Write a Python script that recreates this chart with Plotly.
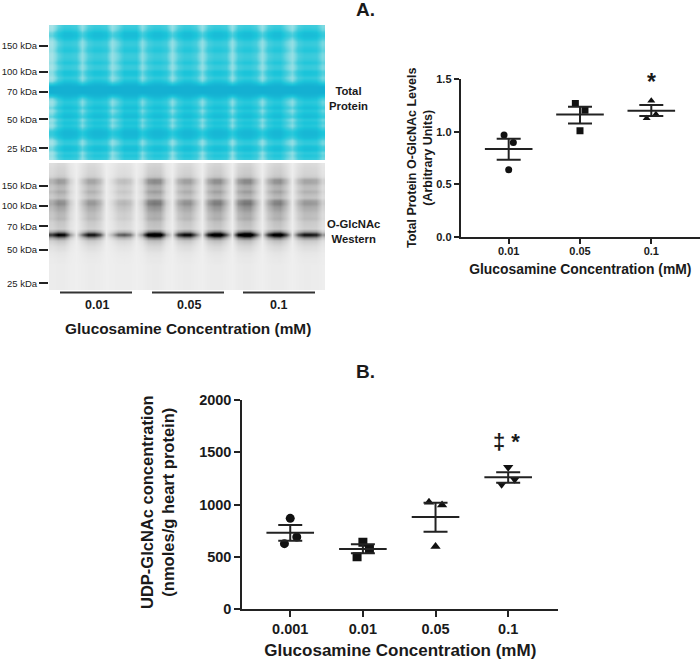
import plotly.graph_objects as go

W, H = 700, 663
FONT = "Liberation Sans"

# ---- Panel A dot plot ----
a_cats = ["0.01", "0.05", "0.1"]
a_x = [-0.065, 0.065, 0.0, 0.935, 1.07, 1.0, 2.0, 1.935, 2.065]
a_pts = [0.97, 0.90, 0.64, 1.27, 1.205, 1.01, 1.297, 1.13, 1.167]
a_means = [0.837, 1.165, 1.20]
a_upper = [0.935, 1.24, 1.255]
a_lower = [0.735, 1.08, 1.15]

# ---- Panel B dot plot ----
b_cats = ["0.001", "0.01", "0.05", "0.1"]
b_x = [0.0, 0.09, -0.08, 1.0, 1.09, 0.92, 1.91, 2.09, 2.0, 3.0, 3.09, 2.91]
b_pts = [869, 691, 627, 640, 580, 503, 1022, 997, 599, 1357, 1242, 1194]
b_means = [732, 576, 882, 1261]
b_upper = [806, 621, 1019, 1309]
b_lower = [656, 535, 742, 1210]

# ---- Blot panels: band strength down the gel, lane strength across it ----
stain_rows = [.2, .4, .7, .75, .6, .3, .25, .4, .5, .25, .2, .3, .5, .25, .25, .6, .55, .3, .55, .85,
              1, 1, 1, .9, .65, .4, .5, .7, .45, .65, .75, .4, .6, .45, .7, .85, .85, .75, .4, .3,
              .65, .7, .35, .5, .3]
stain_cols = [.1, .7, 1, 1, .9, .3, .8, 1, 1, .9, .25, .6, 1, 1, 1, .35, .8, 1, 1, .85, .25, .75, 1, 1,
              .8, .25, .8, 1, 1, .9, .25, .85, 1, 1, .8, .25, .8, 1, 1, .6, .25, .8, 1, 1, .95, .5]
western_rows = [.12, .14, .15, .16, .2, .42, .42, .3, .28, .36, .28, .25, .46, .5, .4, .36, .3, .28, .3, .22,
                .2, .18, .5, 1.3, .55, .22, .15, .1, .08, .05, .04, .03, .03, .02, .02, .02, .02, .02, .02, .02,
                .02, .02]
western_cols = [.6, .85, .8, .3, .03, .4, .75, .75, .5, .03, .2, .45, .5, .4, .05, .3, .9, 1, .95, .3, .05, .6, .8, .8,
                .4, .05, .7, .95, .95, .5, .05, .8, 1, 1, .5, .05, .6, .9, .95, .55, .05, .5, .75, .75, .7, .3]
stain_z = [[(.45 + .55 * r) * (c + (1 - c) * r ** 3) for c in stain_cols] for r in stain_rows]
western_z = [[r * c for c in western_cols] for r in western_rows]

stain_ticks = [6.4, 15, 21.7, 30.9, 40.6]
western_ticks = [7.1, 13.7, 20.4, 28.3, 39.3]
stain_labels = ["150 kDa", "100 kDa", "70 kDa", "50 kDa", "25 kDa"]
western_labels = ["150 kDa", "100 kDa", "70 kDa", "50 kDa", "25 kDa"]


def dom_x(a, b):
    return [a / W, b / W]


def dom_y(top, bottom):
    return [1 - bottom / H, 1 - top / H]


fig = go.Figure()

fig.add_trace(go.Heatmap(z=stain_z, xaxis="x", yaxis="y", zsmooth="best", showscale=False, zmin=0, zmax=1,
                         colorscale=[[0, "#b0e4e8"], [.25, "#84dbe2"], [.5, "#45cddc"], [.75, "#1cc5da"], [1, "#14b0d2"]]))
fig.add_trace(go.Heatmap(z=western_z, xaxis="x2", yaxis="y2", zsmooth="best", showscale=False, zmin=0, zmax=1,
                         colorscale=[[0, "#efefef"], [.3, "#a9a9a9"], [.6, "#5a5a5a"], [1, "#000000"]]))


def dots(x, y, sym, size, xa, ya):
    fig.add_trace(go.Scatter(x=x, y=y, mode="markers", xaxis=xa, yaxis=ya, showlegend=False,
                             marker=dict(symbol=sym, size=size, color="#111111")))


def summary(means, upper, lower, xa, ya):
    xs = list(range(len(means)))
    fig.add_trace(go.Scatter(
        x=xs, y=means, mode="markers", xaxis=xa, yaxis=ya, showlegend=False,
        marker=dict(symbol="line-ew", size=34, color="#111111", line=dict(color="#222222", width=2)),
        error_y=dict(type="data", symmetric=False,
                     array=[u - m for u, m in zip(upper, means)],
                     arrayminus=[m - l for m, l in zip(means, lower)],
                     width=12, thickness=2, color="#222222")))


a_syms = ["circle"] * 3 + ["square"] * 3 + ["triangle-up"] * 3
b_syms = ["circle"] * 3 + ["square"] * 3 + ["triangle-up"] * 3 + ["triangle-down"] * 3
dots(a_x, a_pts, a_syms, 7, "x3", "y3")
summary(a_means, a_upper, a_lower, "x3", "y3")
dots(b_x, b_pts, b_syms, 9, "x4", "y4")
summary(b_means, b_upper, b_lower, "x4", "y4")

blot_font = dict(family=FONT, size=9.5, color="#222222")
bold = lambda s: dict(family=FONT, size=s, color="#1a1a1a", weight="bold")

axis_line = dict(showline=True, linecolor="#222222", linewidth=2, ticks="outside", tickcolor="#222222",
                 tickwidth=2, zeroline=False, showgrid=False)

fig.update_layout(
    width=W, height=H, margin=dict(l=0, r=0, t=0, b=0, pad=0, autoexpand=False),
    paper_bgcolor="white", plot_bgcolor="white", showlegend=False,
    xaxis=dict(domain=dom_x(49, 325), range=[-.5, 45.5], visible=False),
    yaxis=dict(domain=dom_y(25, 160), range=[44.5, -.5], showline=False, zeroline=False, showgrid=False,
               ticks="outside", ticklen=9, tickwidth=2, tickcolor="#222222",
               tickmode="array", tickvals=stain_ticks, ticktext=stain_labels, tickfont=blot_font),
    xaxis2=dict(domain=dom_x(49, 325), range=[-.5, 45.5], visible=False, anchor="y2"),
    yaxis2=dict(domain=dom_y(163, 290), range=[41.5, -.5], showline=False, zeroline=False, showgrid=False,
                anchor="x2", ticks="outside", ticklen=9, tickwidth=2, tickcolor="#222222",
                tickmode="array", tickvals=western_ticks, ticktext=western_labels, tickfont=blot_font),
    xaxis3=dict(domain=dom_x(460.7, 700), range=[-.673, 2.683], anchor="y3", tickmode="array",
                tickvals=[0, 1, 2], ticktext=a_cats, ticklen=5, ticklabelstandoff=-2, tickfont=bold(11),
                title=dict(text="Glucosamine Concentration (mM)", font=bold(13.9), standoff=8), **axis_line),
    yaxis3=dict(domain=dom_y(79.3, 237), range=[0, 1.5], anchor="x3", tickmode="array",
                tickvals=[0, .5, 1, 1.5], ticktext=["0.0", "0.5", "1.0", "1.5"], ticklen=5, tickfont=bold(11),
                **axis_line),
    xaxis4=dict(domain=dom_x(242.3, 558.3), range=[-.66, 3.69], anchor="y4", tickmode="array",
                tickvals=[0, 1, 2, 3], ticktext=b_cats, ticklen=6, ticklabelstandoff=-1, tickfont=bold(14.5),
                title=dict(text="Glucosamine Concentration (mM)", font=bold(17), standoff=8), **axis_line),
    yaxis4=dict(domain=dom_y(400, 609.3), range=[0, 2000], anchor="x4", tickmode="array",
                tickvals=[0, 500, 1000, 1500, 2000], ticklen=6, tickfont=bold(14.5),
                **axis_line),
)


def note(text, px, py, size, weight=True, xanchor="center", angle=0):
    f = bold(size) if weight else dict(family=FONT, size=size, color="#222222")
    fig.add_annotation(text=text, x=px / W, y=1 - py / H, xref="paper", yref="paper", showarrow=False,
                       font=f, xanchor=xanchor, yanchor="middle", align="center", textangle=angle)


note("A.", 365, 10, 19)
note("B.", 365, 371, 19)
note("Total<br>Protein", 348, 98, 11.3)
note("O-GlcNAc<br>Western", 353, 231, 11.3)
note("0.01", 97, 305, 12.5)
note("0.05", 189, 305, 12.5)
note("0.1", 278, 305, 12.5)
note("Glucosamine Concentration (mM)", 188, 328, 15.4)
note("Total Protein O-GlcNAc Levels<br>(Arbitrary Units)", 420, 158, 12.5, angle=-90)
note("UDP-GlcNAc concentration<br>(nmoles/g heart protein)", 157, 502, 16.5, angle=-90)
fig.add_annotation(text="*", x=2, y=1.47, xref="x3", yref="y3", showarrow=False, font=bold(23), yanchor="middle")
fig.add_annotation(text="‡ *", x=2.98, y=1605, xref="x4", yref="y4", showarrow=False, font=bold(22), yanchor="middle")

for x0, x1 in [(60, 132), (152, 224), (243, 315)]:
    fig.add_shape(type="line", xref="paper", yref="paper", x0=x0 / W, x1=x1 / W, y0=1 - 292.5 / H, y1=1 - 292.5 / H,
                  line=dict(color="#333333", width=2))

fig.write_html("out.html", post_script="document.body.style.margin='0';",
               config=dict(displayModeBar=False))
